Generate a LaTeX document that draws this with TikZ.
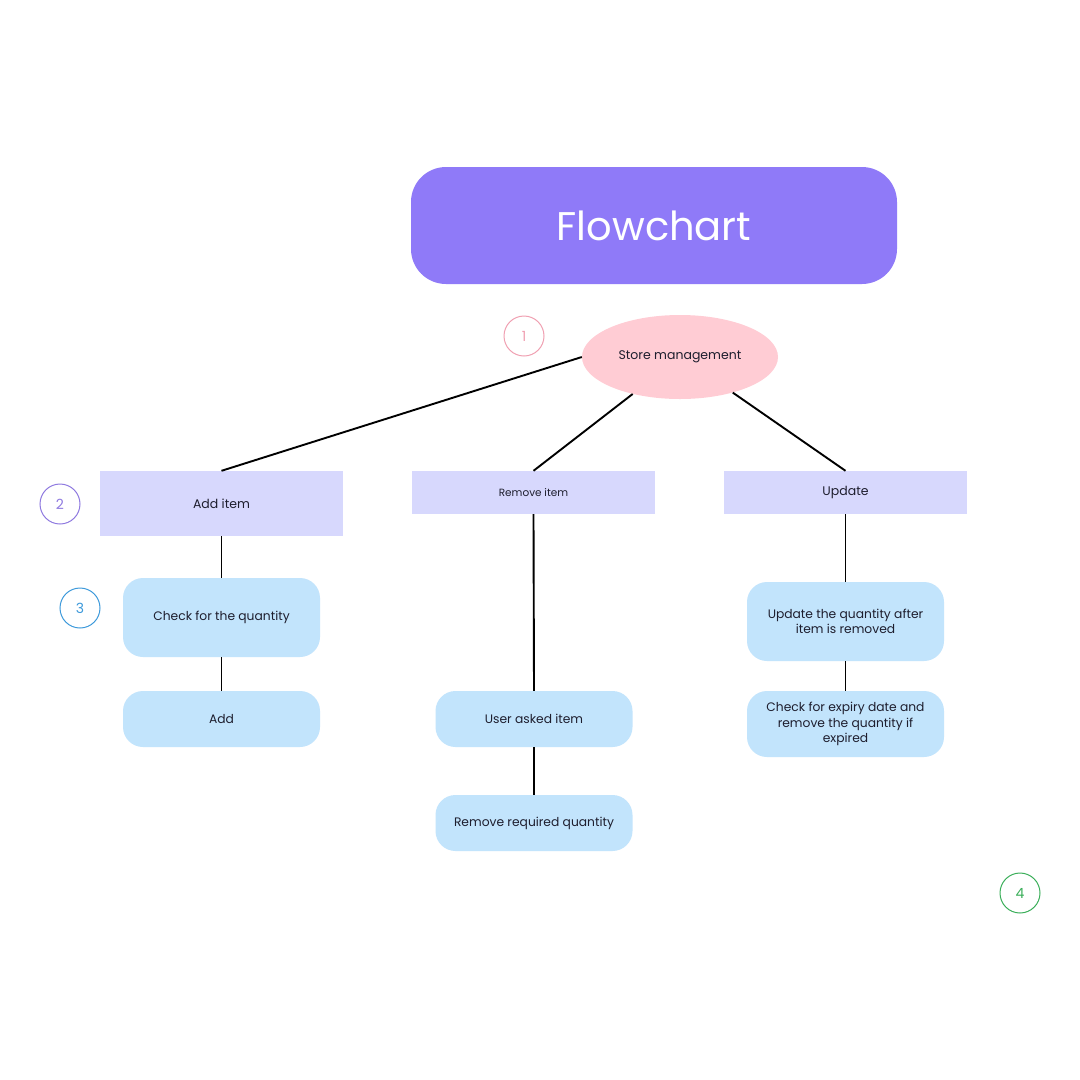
\documentclass[tikz,border=0pt]{standalone}
\usepackage{fontspec}
\setmainfont{Poppins}
\usetikzlibrary{shapes.geometric}
\definecolor{titlebg}{HTML}{8F7AF8}
\definecolor{ellbg}{HTML}{FFCCD4}
\definecolor{lavbg}{HTML}{D7D8FD}
\definecolor{bluebg}{HTML}{C2E4FC}
\definecolor{txt}{HTML}{1E1E2E}
\definecolor{cpink}{HTML}{F0A0B2}
\definecolor{cpurple}{HTML}{8F7AE0}
\definecolor{cblue}{HTML}{3E9ADB}
\definecolor{cgreen}{HTML}{3BAF5A}
\tikzset{
  lavbox/.style={rectangle, fill=lavbg, minimum width=243pt, inner sep=0pt, text=txt, font=\fontsize{12.5}{14}\selectfont},
  bluebox/.style={rectangle, rounded corners=20pt, fill=bluebg, minimum width=197pt, inner sep=0pt, text=txt, align=center, font=\fontsize{12.3}{15.2}\selectfont},
  numcirc/.style={circle, draw=#1, line width=1pt, minimum size=40pt, inner sep=0pt, text=#1, font=\fontsize{14}{16}\selectfont},
  conn/.style={line width=1.9pt, black}
}
\begin{document}
\begin{tikzpicture}[x=1pt,y=-1pt]
\useasboundingbox[fill=white] (0,0) rectangle (1080,1080);
\node[rectangle, rounded corners=35pt, fill=titlebg, minimum width=486pt, minimum height=117pt, text=white, font=\fontsize{40}{48}\selectfont] (title) at (654,225.5) {Flowchart};
\node[numcirc=cpink] (n1) at (524,336) {1};
\node[ellipse, fill=ellbg, minimum width=196pt, minimum height=84pt, inner sep=0pt, text=txt, font=\fontsize{12.5}{14}\selectfont] (sm) at (680,357) {Store management};
\node[numcirc=cpurple] (n2) at (60,504) {2};
\node[numcirc=cblue] (n3) at (80,608) {3};
\node[numcirc=cgreen] (n4) at (1020,893) {4};
\node[lavbox, minimum height=65pt] (add) at (221.5,503.5) {Add item};
\node[lavbox, minimum height=43pt, font=\fontsize{10.5}{12}\selectfont] (rem) at (533.5,492.5) {Remove item};
\node[lavbox, minimum height=43pt] (upd) at (845.5,492.5) {Update};
\node[bluebox, minimum height=79pt] (chk) at (221.5,617.5) {Check for the quantity};
\node[bluebox, minimum height=56pt] (addb) at (221.5,719) {Add};
\node[bluebox, minimum height=56pt] (ask) at (534,719) {User asked item};
\node[bluebox, minimum height=56pt] (rq) at (534,823) {Remove required quantity};
\node[bluebox, minimum height=79pt] (uq) at (845.5,621.5) {Update the quantity after\\item is removed};
\node[bluebox, minimum height=66pt] (exp) at (845.5,724) {Check for expiry date and\\remove the quantity if\\expired};
\draw[conn] (sm.west) -- (add.north);
\draw[conn] (sm.218) -- (rem.north);
\draw[conn] (sm.326) -- (upd.north);
\draw[conn] (add.south) -- (chk.north);
\draw[conn] (chk.south) -- (addb.north);
\draw[conn] (rem.south) -- (ask.north);
\draw[conn] (ask.south) -- (rq.north);
\draw[conn] (upd.south) -- (uq.north);
\draw[conn] (uq.south) -- (exp.north);
\end{tikzpicture}
\end{document}
